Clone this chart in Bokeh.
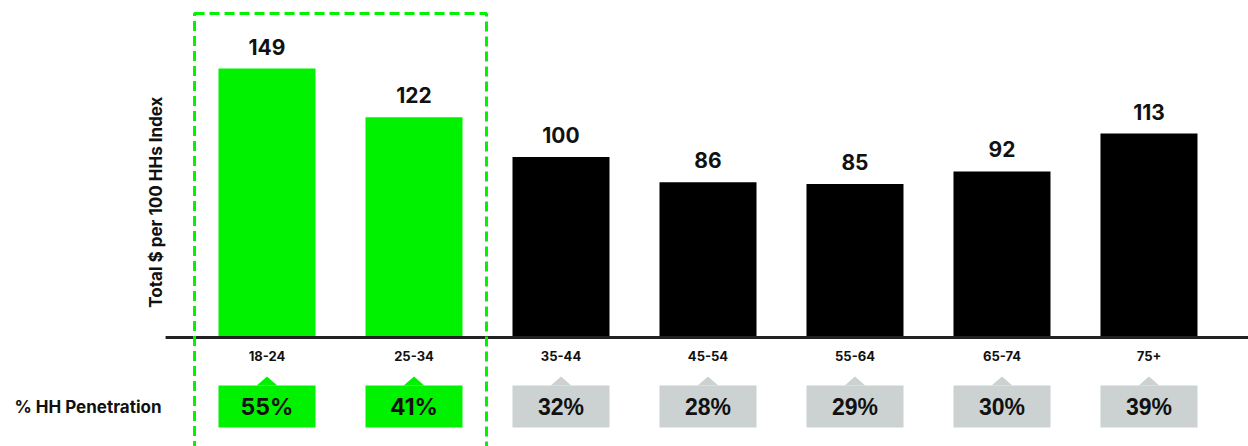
from bokeh.plotting import figure
from bokeh.models import Range1d, ColumnDataSource
from bokeh.core.properties import value
from bokeh.embed import file_html
from bokeh.resources import INLINE

# ---- data ----
categories = ["18-24", "25-34", "35-44", "45-54", "55-64", "65-74", "75+"]
index_values = [149, 122, 100, 86, 85, 92, 113]
penetration = [55, 41, 32, 28, 29, 30, 39]
highlighted = [True, True, False, False, False, False, False]

GREEN = "#00f200"
GREY = "#ccd1d1"

xs = list(range(len(categories)))
bar_colors = [GREEN if h else "#000000" for h in highlighted]
box_colors = [GREEN if h else GREY for h in highlighted]

p = figure(width=1248, height=446, output_backend="svg", toolbar_location=None,
           x_range=Range1d(-1.813, 6.677), y_range=Range1d(-60.4, 186.7),
           min_border=0, min_border_left=0, min_border_right=0,
           min_border_top=0, min_border_bottom=0)
p.xaxis.visible = False
p.yaxis.visible = False
p.xgrid.visible = False
p.ygrid.visible = False
p.outline_line_color = None
p.background_fill_color = "white"
p.border_fill_color = "white"

src = ColumnDataSource(dict(
    x=xs, v=index_values, cat=categories,
    pen=[f"{v}%" for v in penetration],
    bc=bar_colors, pc=box_colors,
))

# bars
p.vbar(x="x", top="v", bottom=0, width=0.66, fill_color="bc", line_color=None, source=src)

# baseline
p.segment(x0=[-0.69], y0=[0], x1=[7.0], y1=[0], line_color="#222222", line_width=3)

# value labels
p.text(x="x", y="v", text="v", source=src, y_offset=-14,
       text_align="center", text_baseline="bottom",
       text_font=value("Inter"), text_font_style="bold", text_font_size="21px",
       text_color="#111111")

# category labels
p.text(x="x", y=0, text="cat", source=src, y_offset=19,
       text_align="center", text_baseline="middle",
       text_font=value("Inter"), text_font_style="bold", text_font_size="13px",
       text_color="#111111")

# penetration callout boxes
BOX_TOP, BOX_BOT, NOTCH_TOP = -26.6, -49.9, -21.6
p.vbar(x="x", top=BOX_TOP, bottom=BOX_BOT, width=0.66, fill_color="pc",
       line_color=None, source=src)
notch_xs = [[x - 0.07, x, x + 0.07] for x in xs]
notch_ys = [[BOX_TOP, NOTCH_TOP, BOX_TOP] for _ in xs]
p.patches(notch_xs, notch_ys, fill_color=box_colors, line_color=None)

hi_src = ColumnDataSource(dict(
    x=[x for x, h in zip(xs, highlighted) if h],
    t=[f"{v}%" for v, h in zip(penetration, highlighted) if h]))
lo_src = ColumnDataSource(dict(
    x=[x for x, h in zip(xs, highlighted) if not h],
    t=[f"{v}%" for v, h in zip(penetration, highlighted) if not h]))
ymid = (BOX_TOP + BOX_BOT) / 2
p.text(x="x", y=ymid, text="t", source=hi_src, text_align="center",
       text_baseline="middle", text_font=value("Inter"), text_font_style="bold",
       text_font_size="23px", text_color="#111111")
p.text(x="x", y=ymid, text="t", source=lo_src, text_align="center",
       text_baseline="middle", text_font=value("Liberation Sans"),
       text_font_style="bold", text_font_size="23px", text_color="#111111")

# row label
p.text(x=[-1.813], y=[ymid], text=["% HH Penetration"], x_offset=14,
       text_align="left", text_baseline="middle",
       text_font=value("Inter"), text_font_style="bold", text_font_size="17px",
       text_color="#111111")

# y-axis title
p.text(x=[-0.753], y=[75], text=["Total $ per 100 HHs Index"], angle=1.5708,
       text_align="center", text_baseline="middle",
       text_font=value("Inter"), text_font_style="bold", text_font_size="17px",
       text_color="#111111")

# dashed highlight frame
p.quad(left=[-0.493], right=[1.493], top=[179.5], bottom=[-75],
       fill_color=None, line_color=GREEN, line_width=3, line_dash="10 5")

open("out.html", "w").write(file_html(p, INLINE))
